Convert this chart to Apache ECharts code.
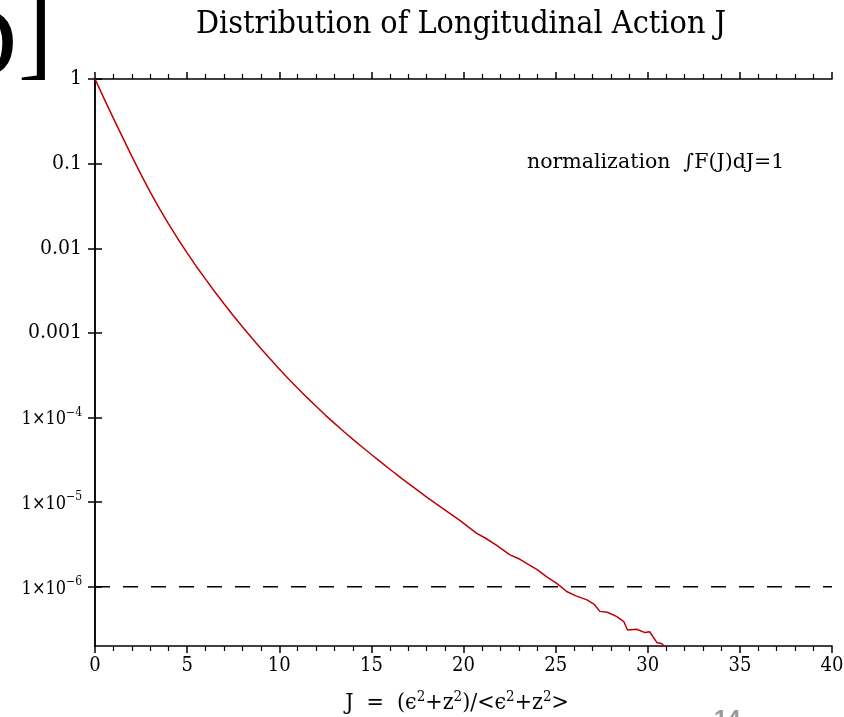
<!DOCTYPE html>
<html><head><meta charset="utf-8">
<script src="https://cdn.jsdelivr.net/npm/echarts@6/dist/echarts.min.js"></script>
<style>html,body{margin:0;padding:0;background:#fff;overflow:hidden}#c{width:844px;height:717px}</style>
</head><body><div id="c"></div>
<script>
// ---- data ----
const J = [0,0.5,1,1.5,2,2.5,3,3.5,4,4.5,5,5.5,6,6.5,7,7.5,8,8.5,9,9.5,10,10.5,11,11.5,12,12.5,13,13.5,14,14.5,15,15.5,16,16.5,17,17.5,18,18.5,19.1,19.8,20.7,21.2,21.8,22.5,23.0,23.4,24.0,24.5,25.0,25.3,25.6,26.1,26.7,27.1,27.4,27.8,28.3,28.7,28.9,29.4,29.85,30.1,30.5,30.75,30.95,31.2];
const F = [1,0.582,0.343,0.204,0.1216,0.0741,0.0462,0.0295,0.01928,0.01288,0.00881,0.00610,0.00432,0.00307,0.00221,0.00161,0.00118,0.000877,0.000655,0.000494,0.000375,0.000288,0.000222,0.000173,0.000136,0.000107,8.55e-5,6.85e-5,5.53e-5,4.49e-5,3.66e-5,2.99e-5,2.45e-5,2.02e-5,1.67e-5,1.39e-5,1.15e-5,9.62e-6,7.78e-6,6.10e-6,4.32e-6,3.75e-6,3.09e-6,2.40e-6,2.15e-6,1.91e-6,1.60e-6,1.32e-6,1.12e-6,1.0e-6,8.81e-7,7.82e-7,7.01e-7,6.2e-7,5.13e-7,5.01e-7,4.47e-7,3.89e-7,3.09e-7,3.16e-7,2.88e-7,2.95e-7,2.19e-7,2.14e-7,1.95e-7,1.8e-7];
const xRange = [0, 40];
const xTickValues = [0,5,10,15,20,25,30,35,40];
const yTickValues = [1e-6,1e-5,1e-4,1e-3,1e-2,1e-1,1];
const yTickLabels = ['1×10|−6','1×10|−5','1×10|−4','0.001','0.01','0.1','1'];
const refLevel = 1e-6;
const titleText = 'Distribution of Longitudinal Action J';
const noteText = 'normalization  ∫F(J)dJ=1';

// ---- chart ----
const SERIF = '"DejaVu Serif Condensed","DejaVu Serif",serif';
const chart = echarts.init(document.getElementById('c'), null, {renderer:'canvas'});
const axisLine = {show:true, lineStyle:{color:'#000', width:1.5}};
function yLabel(v){
  const i = yTickValues.findIndex(t => Math.abs(Math.log10(t) - Math.log10(v)) < 1e-6);
  if (i < 0) return '';
  const s = yTickLabels[i];
  if (s.indexOf('|') >= 0) { const p = s.split('|'); return '{b|' + p[0] + '}{s|' + p[1] + '}'; }
  return '{p|' + s + '}';
}
const yRich = {
  p:{fontFamily:SERIF, fontSize:21, color:'#000', lineHeight:22},
  b:{fontFamily:SERIF, fontSize:18, color:'#000', lineHeight:22, verticalAlign:'bottom'},
  s:{fontFamily:SERIF, fontSize:12, color:'#000', lineHeight:22, verticalAlign:'top'}
};
const xAxisBase = {type:'value', min:xRange[0], max:xRange[1], interval:5, axisLine:axisLine, splitLine:{show:false},
  axisTick:{show:true, inside:false, length:7, lineStyle:{color:'#000', width:1.5}},
  minorTick:{show:true, splitNumber:5, length:5, lineStyle:{color:'#000', width:1.2}}};
const yAxisBase = {type:'log', logBase:10, min:2e-7, max:1, axisLine:axisLine, splitLine:{show:false}, minorTick:{show:false},
  axisTick:{show:true, inside:false, length:7, customValues:yTickValues, lineStyle:{color:'#000', width:1.5}}};

chart.setOption({
  animation:false,
  backgroundColor:'#fff',
  grid:{left:95, right:12, top:79, bottom:71, containLabel:false, outerBoundsMode:'none'},
  title:{text:titleText, left:191, top:4, textStyle:{fontFamily:SERIF, fontSize:32, fontWeight:'normal', color:'#000'}},
  xAxis:[
    Object.assign({}, xAxisBase, {position:'bottom',
      axisLabel:{show:true, margin:10, fontFamily:SERIF, fontSize:20, color:'#000', customValues:xTickValues},
      name:'J  =  (ϵ{s|2}+z{s|2})/<ϵ{s|2}+z{s|2}>', nameLocation:'middle', nameGap:44,
      nameTextStyle:{fontFamily:SERIF, fontSize:23, color:'#000', padding:[0,13,0,0],
        rich:{s:{fontFamily:SERIF, fontSize:15, color:'#000', verticalAlign:'top', lineHeight:26}}}}),
    Object.assign({}, xAxisBase, {position:'top', axisLabel:{show:false}})
  ],
  yAxis:[
    Object.assign({}, yAxisBase, {position:'left',
      axisLabel:{show:true, margin:13, customValues:yTickValues, formatter:yLabel, rich:yRich}}),
    Object.assign({}, yAxisBase, {position:'right', axisLabel:{show:false}})
  ],
  graphic:[
    {type:'text', left:527, top:152, style:{text:noteText, fontFamily:'"DejaVu Serif",serif', fontSize:20.5, fill:'#000'}},
    {type:'text', right:827, top:-2, style:{text:'D', fontFamily:'"Liberation Serif",serif', fontSize:104, fill:'#000'}},
    {type:'text', left:18, top:-13, style:{text:']', fontFamily:'"Liberation Serif",serif', fontSize:104, fill:'#000'}},
    {type:'text', left:714, top:708, style:{text:'14', fontFamily:'"Liberation Sans",sans-serif', fontSize:24, fontWeight:'bold', fill:'#9a9a9a'}}
  ],
  series:[{
    type:'line', data:J.map((x,i)=>[x,F[i]]), showSymbol:false, clip:true, smooth:false, z:3,
    lineStyle:{color:'#c00000', width:1.5}, itemStyle:{color:'#c00000'}
  },{
    type:'line', data:xRange.map(x=>[x,refLevel]), showSymbol:false, silent:true, z:2,
    lineStyle:{color:'#000', width:1.5, type:[15,13]}, itemStyle:{color:'#000'}
  }]
});
</script></body></html>
